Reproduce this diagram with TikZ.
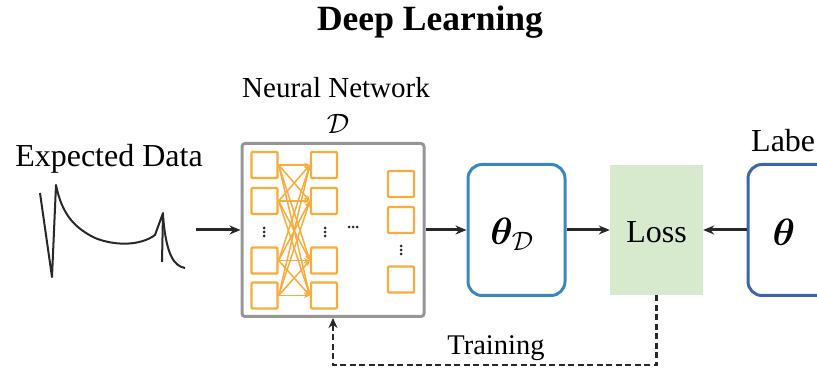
\RequirePackage{fix-cm}
\documentclass[tikz,border=0pt]{standalone}
\usepackage{fontspec}
\setmainfont{Liberation Serif}
\usepackage{amsmath,bm}
\usetikzlibrary{arrows.meta}
\definecolor{nnorange}{RGB}{248,172,60}
\definecolor{thblue}{RGB}{58,135,192}
\definecolor{lblue}{RGB}{62,100,172}
\definecolor{lossgreen}{RGB}{216,234,206}
\definecolor{arr}{RGB}{40,40,40}
\definecolor{nngray}{RGB}{150,150,150}
\begin{document}
\begin{tikzpicture}[x=1pt,y=-1pt,
  flow/.style={-{Stealth[length=11pt,width=9pt]},line width=3pt,draw=arr},
  fback/.style={-{Stealth[length=10pt,width=9pt]},line width=2.5pt,draw=arr,dash pattern=on 6pt off 3.5pt},
  neuron/.style={draw=nnorange,line width=2.3pt,rounded corners=1pt,minimum size=26pt,inner sep=0pt},
  link/.style={-{Stealth[length=6pt,width=5pt]},draw=nnorange,line width=1.5pt},
  dotc/.style={fill=arr,circle,inner sep=0pt,minimum size=3pt},
  pbox/.style={rounded corners=14pt,line width=3pt,minimum width=97pt,minimum height=131pt,inner sep=0pt},
  lbl/.style={inner sep=0pt,anchor=base}]
\useasboundingbox (0,0) rectangle (817,371);
\clip (0,0) rectangle (817,371);

% title
\node[lbl,font=\bfseries\fontsize{35.5}{42}\selectfont] (title) at (430,31) {Deep Learning};

% expected data
\node[lbl,font=\fontsize{32}{38}\selectfont] (exp) at (109,167) {Expected Data};
\draw[line width=2pt,arr,line join=round] (40,193) -- (52,277) -- (56,185)
  .. controls (62,215) and (75,228) .. (95,238)
  .. controls (115,246) and (140,246) .. (155,235) -- (163,213) -- (162,262);
\draw[line width=2pt,arr] (163,215) .. controls (166,255) and (174,266) .. (185,268);
\coordinate (src) at (196,230);

% neural network
\node[lbl,font=\fontsize{29}{34}\selectfont] (nntitle) at (336,98) {Neural Network};
\node[inner sep=0pt,font=\fontsize{28}{34}\selectfont] (nnD) at (338,124) {$\mathcal{D}$};
\node[draw=nngray,line width=3pt,rounded corners=3pt,minimum width=182pt,minimum height=173pt,inner sep=0pt] (nn) at (333,230) {};

\foreach \i/\y in {1/165,2/201,3/260.5,4/295.5}{
  \node[neuron] (a\i) at (264.5,\y) {};
  \node[neuron] (b\i) at (324,\y) {};
}
\foreach \i/\y in {1/184,2/220,3/279.5}{
  \node[neuron] (c\i) at (401,\y) {};
}
\foreach \i in {1,2,3,4}{
  \foreach \j in {1,2,3,4}{
    \draw[link] (a\i.east) -- (b\j.west);
  }
}
\foreach \k in {228,232,236}{
  \node[dotc] (da\k) at (264,\k) {};
  \node[dotc] (db\k) at (325,\k) {};
}
\foreach \k in {349,353,357}{
  \node[dotc] (dh\k) at (\k,227) {};
}
\foreach \k in {246,250,254}{
  \node[dotc] (dc\k) at (401,\k) {};
}

% theta_D
\node[pbox,draw=thblue] (thD) at (516.5,230) {};
\node[inner sep=0pt,font=\fontsize{38}{44}\selectfont] (thDt) at (512,234) {$\bm{\theta}_{\mathcal{D}}$};

% loss
\node[fill=lossgreen,minimum width=93pt,minimum height=130pt,inner sep=0pt] (loss) at (656.5,230) {};
\node[inner sep=0pt,font=\fontsize{32}{38}\selectfont] (losst) at (656.5,232) {Loss};

% label
\node[lbl,anchor=base west,font=\fontsize{32}{38}\selectfont] (labt) at (751,152) {Labe};
\node[pbox,draw=lblue] (th) at (796.5,230) {};
\node[inner sep=0pt,font=\fontsize{38}{44}\selectfont] (tht) at (784,232) {$\bm{\theta}$};

% connectors
\draw[flow] (src) -- (nn.west);
\draw[flow] (nn.east) -- (thD.west);
\draw[flow] (thD.east) -- (loss.west);
\draw[flow] (th.west) -- (loss.east);
\coordinate (fb) at (333,365);
\draw[fback] (loss.south) |- (fb) -- (nn.south);
\node[lbl,font=\fontsize{28.5}{34}\selectfont] (train) at (496,355) {Training};
\end{tikzpicture}
\end{document}
